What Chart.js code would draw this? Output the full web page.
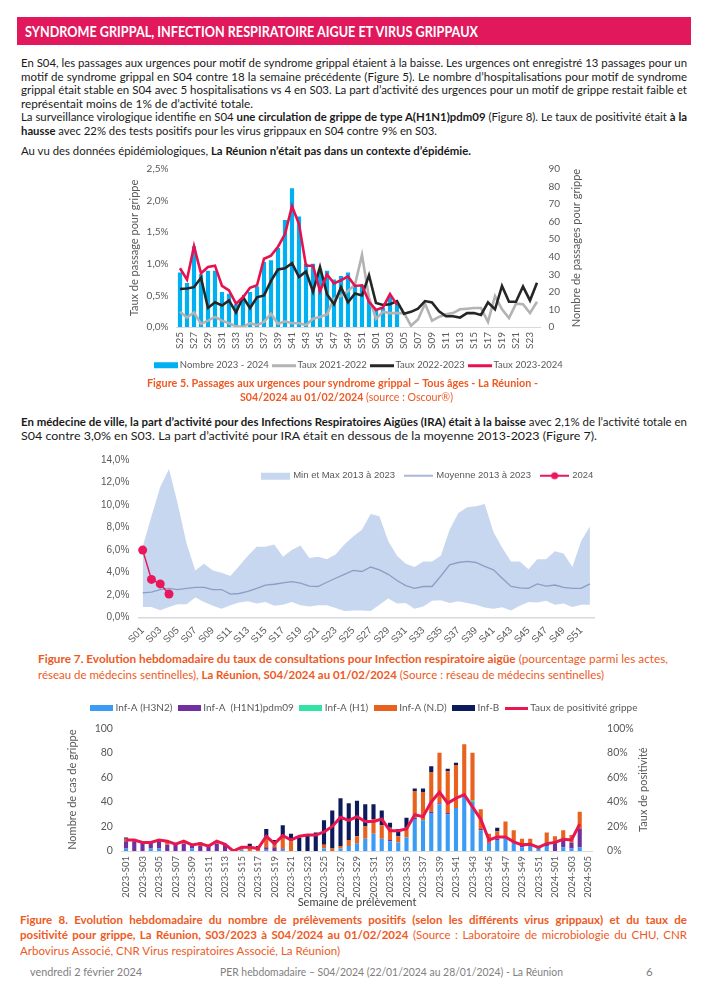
<!DOCTYPE html>
<html><head><meta charset="utf-8">
<script src="https://cdn.jsdelivr.net/npm/chart.js@4.4.1/dist/chart.umd.min.js"></script>
<style>
html,body{margin:0;padding:0;background:#fff}
body{position:relative;width:707px;height:1000px;overflow:hidden;font-family:Lato,sans-serif;color:#1a1a1a}
.hdr{position:absolute;left:17px;top:17px;width:674px;height:28px;background:#e1185c}
.ttl{position:absolute;left:25px;top:17px;line-height:28px;color:#fff;font-weight:bold;font-size:15px;white-space:nowrap;transform-origin:0 50%}
.ln{position:absolute;left:21px;font-size:11.5px;line-height:14px;height:14px;white-space:nowrap;transform-origin:0 50%}
.cap{position:absolute;font-size:11.5px;line-height:14px;height:14px;color:#ee5a24;white-space:nowrap;transform-origin:0 50%}
.ft{position:absolute;top:965px;font-size:11.5px;color:#808080;white-space:nowrap;line-height:14px;transform-origin:0 50%}
canvas{position:absolute}
</style></head><body>
<div class="hdr"></div>
<div class="ttl" data-w="453">SYNDROME GRIPPAL, INFECTION RESPIRATOIRE AIGUE ET VIRUS GRIPPAUX</div>
<div class="ln" data-w="666" data-m="j" style="top:56px">En S04, les passages aux urgences pour motif de syndrome grippal étaient à la baisse. Les urgences ont enregistré 13 passages pour un</div>
<div class="ln" data-w="666" data-m="j" style="top:70px">motif de syndrome grippal en S04 contre 18 la semaine précédente (Figure 5). Le nombre d’hospitalisations pour motif de syndrome</div>
<div class="ln" data-w="666" data-m="j" style="top:83px">grippal était stable en S04 avec 5 hospitalisations vs 4 en S03. La part d’activité des urgences pour un motif de grippe restait faible et</div>
<div class="ln" data-w="232" style="top:97px">représentait moins de 1% de d’activité totale.</div>
<div class="ln" data-w="666" data-m="j" style="top:110px">La surveillance virologique identifie en S04 <b>une circulation de grippe de type A(H1N1)pdm09</b> (Figure 8). Le taux de positivité était <b>à la</b></div>
<div class="ln" data-w="416" style="top:124px"><b>hausse</b> avec 22% des tests positifs pour les virus grippaux en S04 contre 9% en S03.</div>
<div class="ln" data-w="450" style="top:144px">Au vu des données épidémiologiques, <b>La Réunion n’était pas dans un contexte d’épidémie.</b></div>

<canvas id="c1" width="500" height="225" style="left:100px;top:155px"></canvas>
<div class="cap" data-w="391" style="left:147px;top:376px"><b>Figure 5. Passages aux urgences pour syndrome grippal – Tous âges - La Réunion -</b></div>
<div class="cap" data-w="213" style="left:240px;top:390px"><b>S04/2024 au 01/02/2024</b> (source : Oscour®)</div>

<div class="ln" data-w="666" data-m="j" style="top:415px"><b>En médecine de ville, la part d’activité pour des Infections Respiratoires Aigües (IRA) était à la baisse</b> avec 2,1% de l’activité totale en</div>
<div class="ln" data-w="576" style="top:429px">S04 contre 3,0% en S03. La part d’activité pour IRA était en dessous de la moyenne 2013-2023 (Figure 7).</div>

<canvas id="c2" width="530" height="205" style="left:80px;top:445px"></canvas>
<div class="cap" data-w="630" style="left:38px;top:652px"><b>Figure 7. Evolution hebdomadaire du taux de consultations pour Infection respiratoire aigüe</b> (pourcentage parmi les actes,</div>
<div class="cap" data-w="566" style="left:38px;top:668px">réseau de médecins sentinelles), <b>La Réunion, S04/2024 au 01/02/2024</b> (Source : réseau de médecins sentinelles)</div>

<canvas id="c3" width="600" height="215" style="left:60px;top:695px"></canvas>
<div class="cap" data-w="667" data-m="j" style="left:20px;top:913px"><b>Figure 8. Evolution hebdomadaire du nombre de prélèvements positifs (selon les différents virus grippaux) et du taux de</b></div>
<div class="cap" data-w="667" data-m="j" style="left:20px;top:928px"><b>positivité pour grippe, La Réunion, S03/2023 à S04/2024 au 01/02/2024</b> (Source : Laboratoire de microbiologie du CHU, CNR</div>
<div class="cap" data-w="320" style="left:20px;top:944px">Arbovirus Associé, CNR Virus respiratoires Associé, La Réunion)</div>

<div class="ft" data-w="112" style="left:30px">vendredi 2 février 2024</div>
<div class="ft" data-w="343" style="left:220px">PER hebdomadaire – S04/2024 (22/01/2024 au 28/01/2024) - La Réunion</div>
<div class="ft" style="left:646px">6</div>

<script>
// ---------- Figure 5 data ----------
const weeks1 = ['S25','S26','S27','S28','S29','S30','S31','S32','S33','S34','S35','S36','S37','S38','S39','S40','S41','S42','S43','S44','S45','S46','S47','S48','S49','S50','S51','S52',
  'S01','S02','S03','S04','S05','S06','S07','S08','S09','S10','S11','S12','S13','S14','S15','S16','S17','S18','S19','S20','S21','S22','S23','S24'];
const nombre2324 = [31,25,46,30,32,32,20,19,13,17,20,23,37,38,45,61,79,63,36,36,33,32,27,29,31,24,24,16,10,11,18,13];
const taux2122 = [0.24,0.15,0.23,0.05,0.10,0.16,0.10,0.06,0.01,0.00,0.06,0.03,0.08,0.21,0.05,0.09,0.06,0.06,0.03,0.13,0.16,0.20,0.45,0.49,0.57,0.67,1.14,0.46,
  0.13,0.24,0.22,0.22,0.22,0.02,0.12,0.37,0.10,0.16,0.20,0.22,0.28,0.29,0.30,0.30,0.08,0.49,0.28,0.14,0.37,0.36,0.22,0.40];
const taux2223 = [0.60,0.61,0.63,0.78,0.30,0.39,0.34,0.42,0.23,0.47,0.30,0.47,0.50,0.73,0.91,0.93,1.01,0.79,0.88,0.56,0.95,0.52,0.36,0.63,0.39,0.53,0.50,0.82,
  0.38,0.35,0.36,0.41,0.21,0.24,0.29,0.41,0.39,0.25,0.17,0.17,0.15,0.22,0.22,0.19,0.39,0.28,0.65,0.40,0.40,0.64,0.42,0.70];
const taux2324 = [0.93,0.75,1.28,0.85,0.95,0.97,0.65,0.58,0.37,0.47,0.62,0.66,1.08,1.13,1.27,1.47,1.91,1.63,0.97,0.97,0.57,0.83,0.69,0.74,0.80,0.65,0.66,0.40,
  0.27,0.31,0.52,0.35];

// ---------- Figure 7 data ----------
const weeks2 = ['S01','S02','S03','S04','S05','S06','S07','S08','S09','S10','S11','S12','S13','S14','S15','S16','S17','S18','S19','S20','S21','S22','S23','S24','S25','S26',
  'S27','S28','S29','S30','S31','S32','S33','S34','S35','S36','S37','S38','S39','S40','S41','S42','S43','S44','S45','S46','S47','S48','S49','S50','S51','S52'];
const max2 = [6.3,9.0,11.6,13.2,10.1,6.6,4.2,4.8,4.2,4.0,3.7,4.6,5.5,6.3,6.3,6.5,5.4,6.0,6.4,5.3,5.4,5.2,5.6,6.5,7.2,7.8,
  9.2,9.0,6.8,5.5,4.8,4.5,5.0,5.0,5.5,7.8,9.3,9.8,9.9,10.1,7.6,6.2,5.0,5.0,4.3,5.2,5.2,5.9,5.7,4.5,6.8,8.1];
const min2 = [0.96,0.96,0.67,0.96,1.2,1.2,1.8,1.4,1.05,0.8,1.1,1.35,1.45,1.25,1.4,1.05,1.15,1.4,1.1,1.0,1.1,1.1,0.87,0.6,0.64,0.64,
  0.6,1.15,1.7,1.25,1.3,0.8,1.0,1.5,1.55,1.3,1.45,1.3,1.15,0.9,0.8,0.93,0.64,1.05,1.4,1.35,1.5,1.15,1.25,0.96,1.15,1.15];
const mean2 = [2.2,2.27,2.5,2.6,2.5,2.6,2.7,2.7,2.5,2.5,2.1,2.15,2.33,2.6,2.9,2.97,3.1,3.2,3.06,2.8,2.77,3.15,3.5,3.85,4.2,4.1,
  4.5,4.25,3.85,3.3,2.85,2.6,2.77,2.77,3.7,4.7,4.9,5.0,4.9,4.55,4.25,3.5,2.77,2.65,2.6,3.0,2.8,2.9,2.7,2.6,2.6,3.0];
const ira2024 = [6.0,3.4,3.0,2.1];

// ---------- Figure 8 data ----------
const weeks3 = ['2023-S01','2023-S02','2023-S03','2023-S04','2023-S05','2023-S06','2023-S07','2023-S08','2023-S09','2023-S10',
  '2023-S11','2023-S12','2023-S13','2023-S14','2023-S15','2023-S16','2023-S17','2023-S18','2023-S19','2023-S20',
  '2023-S21','2023-S22','2023-S23','2023-S24','2023-S25','2023-S26','2023-S27','2023-S28','2023-S29','2023-S30',
  '2023-S31','2023-S32','2023-S33','2023-S34','2023-S35','2023-S36','2023-S37','2023-S38','2023-S39','2023-S40',
  '2023-S41','2023-S42','2023-S43','2023-S44','2023-S45','2023-S46','2023-S47','2023-S48','2023-S49','2023-S50',
  '2023-S51','2023-S52','2024-S01','2024-S02','2024-S03','2024-S04','2024-S05'];
const infH3N2 = [2,0,0,2,2,0,0,0,2,0, 0,0,0,0,1,0,0,1,0,1, 0,0,0,0,2,0,2,4,6,10, 14,10,8,7,11,26,25,31,38,30, 35,45,40,17,6,9,11,7,3,5, 3,4, 0,3,2,3,null];
const infH1N1 = [6,8,7,5,6,5,5,6,3,4, 4,6,5,0,0,0,0,2,3,1, 0,0,0,0,0,0,0,0,0,0, 0,0,1,0,0,1,0,1,1,1, 0,0,0,1,1,1,0,0,1,0, 0,3, 8,7,5,15,null];
const infH1 = [0,0,0,0,0,0,0,0,0,0, 0,0,0,0,0,0,0,0,0,0, 0,0,0,0,0,0,0,0,0,0, 0,0,0,0,0,0,0,0,0,0, 0,0,1,0,0,0,0,0,0,0, 0,0, 0,0,0,0,null];
const infND = [2,0,1,1,1,3,1,2,1,2, 1,2,0,0,1,2,2,8,3,9, 8,0,0,0,3,2,2,5,6,10, 12,11,10,5,8,22,23,32,41,34, 35,42,39,16,7,6,13,10,6,5, 0,8, 4,7,6,14,null];
const infB = [1,1,0,0,0,0,0,0,0,1, 0,0,1,0,1,4,2,7,3,10, 6,11,13,15,20,31,39,30,29,18, 12,12,4,6,8,2,3,5,0,2, 2,0,0,0,0,3,0,0,0,0, 0,0, 0,0,0,0,null];
const tauxPos = [9,9,7,7,9,8,5.5,8,5,6, 4,8,5.5,0,3,3,2,12,6,12.5, 9,12,13,13,15.5,20,27.5,25,28,24, 24,26,16.5,16.5,18,29.5,28,40,48,39, 43,46,36,26,9,11.5,11.5,7.5,5,5.5, 3,6, 7,9.5,9,22,null];

// ---------- text fitting (page text lines) ----------
document.querySelectorAll('[data-w]').forEach(el => {
  const W = +el.dataset.w, m = el.dataset.m || 'x';
  const w = el.getBoundingClientRect().width;
  if (m === 'j' && w < W) {
    const n = (el.textContent.match(/ /g) || []).length;
    el.style.wordSpacing = ((W - w) / n) + 'px';
  } else {
    el.style.transform = 'scaleX(' + (W / w) + ')';
  }
});

// ---------- helpers ----------
const GREY = '#595959';
function icon(w, h, draw){ const c = document.createElement('canvas'); c.width = w; c.height = h; draw(c.getContext('2d'), w, h); return c; }
const boxIcon = (col, w, bh) => icon(w, 12, (x, W, H) => { x.fillStyle = col; x.fillRect(0, Math.round((H - bh) / 2), W, bh); });
const dotLineIcon = (col, w) => icon(w, 12, (x, W, H) => { x.fillStyle = col; x.fillRect(0, H/2 - 1, W, 2); x.beginPath(); x.arc(W/2, H/2, 3.5, 0, Math.PI*2); x.fill(); });
const item = (text, pointStyle, i) => ({text, pointStyle, datasetIndex: i, hidden: false, lineWidth: 0, strokeStyle: 'rgba(0,0,0,0)', fillStyle: 'rgba(0,0,0,0)', fontColor: GREY});
const everyOther = function(v, i){ return i % 2 === 0 ? this.getLabelForValue(v) : ''; };

// legend layout tweaks: extra/forced height and horizontal shift
const legendGap = { id: 'legendGap', beforeLayout(chart, args, opts){
  const lg = chart.legend;
  if (lg && !lg.__p){
    const f = lg.fit, d = lg.draw;
    lg.fit = function(){ f.call(this); this.__h = this.height;
      if (opts.height !== undefined) this.height = opts.height; else this.height += (opts.extra || 0); };
    lg.draw = function(){ const b = this.bottom; this.bottom = this.top + Math.max(this.__h || 0, this.height);
      const c = this.ctx; c.save(); c.translate(opts.dx || 0, 0); d.apply(this, arguments); c.restore(); this.bottom = b; };
    lg.__p = true;
  } } };
const rightTitle = { id: 'rightTitle', afterDraw(chart, args, o){
  if (!o || !o.text) return; const ctx = chart.ctx, ca = chart.chartArea;
  ctx.save(); ctx.font = o.font; ctx.fillStyle = o.color; ctx.textAlign = 'center'; ctx.textBaseline = 'middle';
  ctx.translate(o.x, (ca.top + ca.bottom) / 2); ctx.rotate(-Math.PI / 2); ctx.fillText(o.text, 0, 0); ctx.restore(); } };

Chart.defaults.font.family = 'Lato';
Chart.defaults.color = GREY;

// ---------- Figure 5 ----------
const f1 = {family: 'Lato', size: 10};
new Chart(document.getElementById('c1'), {
  data: { labels: weeks1, datasets: [
    {type: 'line', label: 'Taux 2023-2024', data: taux2324, yAxisID: 'yL', borderColor: '#e8114f', borderWidth: 2.6, pointRadius: 0, order: 1},
    {type: 'line', label: 'Taux 2022-2023', data: taux2223, yAxisID: 'yL', borderColor: '#262626', borderWidth: 2.6, pointRadius: 0, order: 2},
    {type: 'line', label: 'Taux 2021-2022', data: taux2122, yAxisID: 'yL', borderColor: '#b3b3b3', borderWidth: 2.6, pointRadius: 0, order: 3},
    {type: 'bar', label: 'Nombre 2023 - 2024', data: nombre2324, yAxisID: 'yR', backgroundColor: '#00b0f0', barPercentage: 0.6, categoryPercentage: 1, order: 4}
  ]},
  options: {
    responsive: false, animation: false, devicePixelRatio: 1,
    layout: {padding: {top: 11, left: 0, right: 0, bottom: 0}},
    plugins: {
      tooltip: {enabled: false},
      legend: {position: 'bottom', labels: {usePointStyle: true, pointStyleWidth: 18, font: {family: 'Lato', size: 9.5}, color: GREY, padding: 6,
        generateLabels: () => [item('Nombre 2023 - 2024', boxIcon('#00b0f0', 24, 6), 3), item('Taux 2021-2022', boxIcon('#b3b3b3', 24, 3), 2),
          item('Taux 2022-2023', boxIcon('#262626', 24, 3), 1), item('Taux 2023-2024', boxIcon('#e8114f', 24, 3), 0)]}},
      legendGap: {dx: 10},
      rightTitle: {text: 'Nombre de passages pour grippe', x: 476, font: '11px Lato', color: GREY}
    },
    scales: {
      x: {offset: true, grid: {display: false, drawTicks: false}, border: {color: '#d9d9d9'},
        ticks: {autoSkip: false, minRotation: 90, maxRotation: 90, padding: 5, font: f1, color: GREY, callback: everyOther},
        afterFit(s){ s.height = 27.5; }},
      yL: {position: 'left', min: 0, max: 2.5, grid: {display: false, drawTicks: false}, border: {display: false},
        ticks: {stepSize: 0.5, padding: 8, font: f1, color: GREY, callback: v => v.toFixed(1).replace('.', ',') + '%'},
        title: {display: true, text: 'Taux de passage pour grippe', font: {family: 'Lato', size: 11}, color: GREY, padding: {top: 28}},
        afterFit(s){ s.width = 76.5; }},
      yR: {position: 'right', min: 0, max: 90, grid: {display: false, drawTicks: false}, border: {display: false},
        ticks: {stepSize: 10, padding: 8, font: f1, color: GREY}, afterFit(s){ s.width = 59.5; }}
    }
  },
  plugins: [legendGap, rightTitle]
});

// ---------- Figure 7 ----------
const f2 = {family: 'Liberation Sans', size: 10};
new Chart(document.getElementById('c2'), {
  type: 'line',
  data: { labels: weeks2, datasets: [
    {label: 'Min et Max 2013 à 2023', data: max2, fill: '+1', backgroundColor: '#c7d7ef', borderColor: 'rgba(0,0,0,0)', borderWidth: 0, pointRadius: 0, order: 3},
    {label: 'Min', data: min2, fill: false, borderColor: 'rgba(0,0,0,0)', borderWidth: 0, pointRadius: 0, order: 3},
    {label: 'Moyenne 2013 à 2023', data: mean2, fill: false, borderColor: '#8b9ec8', borderWidth: 1.3, pointRadius: 0, order: 2},
    {label: '2024', data: ira2024, fill: false, borderColor: '#e8185d', backgroundColor: '#e8185d', borderWidth: 1.5, pointRadius: 4.5, pointBorderWidth: 0, order: 1}
  ]},
  options: {
    responsive: false, animation: false, devicePixelRatio: 1,
    layout: {padding: {top: 12.7, right: 15.7, left: 0, bottom: 0}},
    plugins: {
      tooltip: {enabled: false},
      legend: {position: 'top', align: 'end', labels: {usePointStyle: true, pointStyleWidth: 25.5, font: {family: 'Liberation Sans', size: 9.5}, color: GREY, padding: 11,
        generateLabels: () => [item('Min et Max 2013 à 2023', boxIcon('#c7d7ef', 29, 7), 0), item('Moyenne 2013 à 2023', boxIcon('#a9b7d8', 29, 2), 2),
          item('2024', dotLineIcon('#e8185d', 29), 3)]}},
      legendGap: {height: 0, dx: 10}
    },
    scales: {
      x: {offset: true, grid: {display: false, drawTicks: false}, border: {color: '#d9d9d9', width: 1.5},
        ticks: {autoSkip: false, minRotation: 45, maxRotation: 45, padding: 7, font: f2, color: GREY, callback: everyOther},
        afterFit(s){ s.height = 32.3; }},
      y: {min: 0, max: 14, grid: {display: false, drawTicks: false}, border: {display: false},
        ticks: {stepSize: 2, padding: 9, font: f2, color: GREY, callback: v => v.toFixed(1).replace('.', ',') + '%'},
        afterFit(s){ s.width = 58.3; }}
    }
  },
  plugins: [legendGap]
});

// ---------- Figure 8 ----------
const f3 = {family: 'Lato', size: 10.5};
const bar3 = {type: 'bar', yAxisID: 'y', stack: 's', barPercentage: 0.5, categoryPercentage: 1};
new Chart(document.getElementById('c3'), {
  data: { labels: weeks3, datasets: [
    {type: 'line', label: 'Taux de positivité grippe', data: tauxPos, yAxisID: 'y1', borderColor: '#e8174f', borderWidth: 3, pointRadius: 0, order: 0},
    Object.assign({label: 'Inf-A (H3N2)', data: infH3N2, backgroundColor: '#3a9cf5', order: 1}, bar3),
    Object.assign({label: 'Inf-A  (H1N1)pdm09', data: infH1N1, backgroundColor: '#7030a0', order: 1}, bar3),
    Object.assign({label: 'Inf-A (H1)', data: infH1, backgroundColor: '#33e3a3', order: 1}, bar3),
    Object.assign({label: 'Inf-A (N.D)', data: infND, backgroundColor: '#e8621e', order: 1}, bar3),
    Object.assign({label: 'Inf-B', data: infB, backgroundColor: '#0d1b5c', order: 1}, bar3)
  ]},
  options: {
    responsive: false, animation: false, devicePixelRatio: 1,
    layout: {padding: {top: 0, left: 0, right: 0, bottom: 0}},
    plugins: {
      tooltip: {enabled: false},
      legend: {position: 'top', labels: {usePointStyle: true, pointStyleWidth: 18, font: {family: 'Lato', size: 10}, color: GREY, padding: 8,
        generateLabels: () => [item('Inf-A (H3N2)', boxIcon('#3a9cf5', 23, 6), 1), item('Inf-A  (H1N1)pdm09', boxIcon('#7030a0', 23, 6), 2),
          item('Inf-A (H1)', boxIcon('#33e3a3', 23, 6), 3), item('Inf-A (N.D)', boxIcon('#e8621e', 23, 6), 4), item('Inf-B', boxIcon('#0d1b5c', 23, 6), 5),
          item('Taux de positivité grippe', boxIcon('#e8174f', 23, 3), 0)]}},
      legendGap: {extra: 5.3, dx: 5},
      rightTitle: {text: 'Taux de positivité', x: 583, font: '11px Lato', color: GREY}
    },
    scales: {
      x: {stacked: true, offset: true, grid: {display: false, drawTicks: false}, border: {color: '#d9d9d9'},
        ticks: {autoSkip: false, minRotation: 90, maxRotation: 90, padding: 5, font: {family: 'Lato', size: 9.5}, color: GREY, callback: everyOther},
        title: {display: true, text: 'Semaine de prélèvement', font: {family: 'Lato', size: 11}, color: '#404040', padding: {top: 0, bottom: 1}},
        afterFit(s){ s.height = 59; }},
      y: {stacked: true, position: 'left', min: 0, max: 100, grid: {display: false, drawTicks: false}, border: {display: false},
        ticks: {stepSize: 10, padding: 9, font: f3, color: GREY},
        title: {display: true, text: 'Nombre de cas de grippe', font: {family: 'Lato', size: 11}, color: GREY, padding: {top: 5.5}},
        afterFit(s){ s.width = 61.9; }},
      y1: {position: 'right', min: 0, max: 100, grid: {display: false, drawTicks: false}, border: {display: false},
        ticks: {stepSize: 10, padding: 15, font: f3, color: GREY, callback: v => v + '%'},
        afterFit(s){ s.width = 67.9; }}
    }
  },
  plugins: [legendGap, rightTitle]
});
</script>
</body></html>
